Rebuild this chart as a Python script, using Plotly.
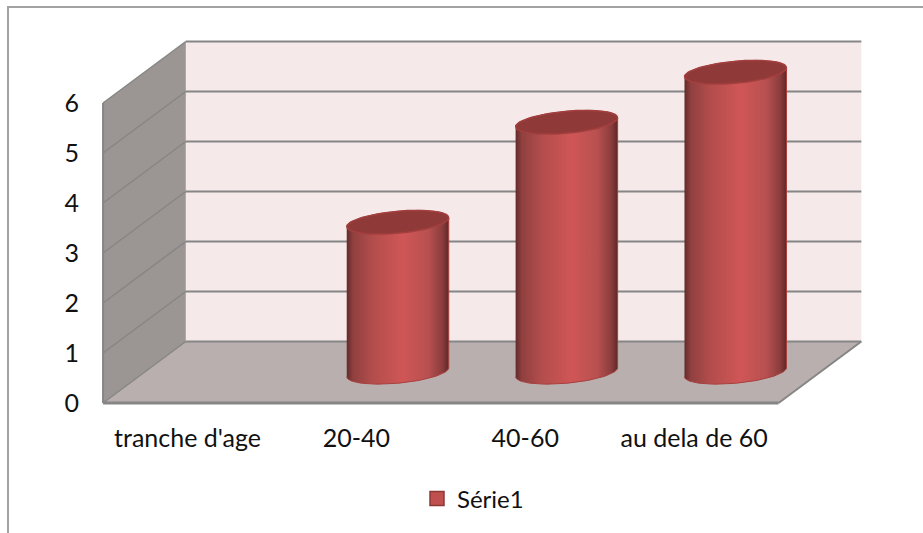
import numpy as np
import plotly.graph_objects as go

# --- data ---
categories = ["tranche d'age", "20-40", "40-60", "au dela de 60"]
values = [0, 3, 5, 6]
series_name = "Série1"
y_ticks = [0, 1, 2, 3, 4, 5, 6]

# --- 3D look geometry, in axis units ---
DX, DY = 0.49, 1.23          # depth of the box
X0, X1 = -0.5, 3.5           # front floor edge
RX = 0.302                   # cylinder half-width
RY, TILT = 0.22, 0.09        # ellipse half-height and tilt
YMAX = max(y_ticks)
FONT = "Lato"
GRID = "#868686"
W, H = 923, 533
ML, MR, MT, MB = 100, 60, 40, 127
PW, PH = W - ML - MR, H - MT - MB


def px(x):
    return (x - ML) / PW


def py(y):
    return (H - MB - y) / PH


def ring(cx, cy, a0, a1, n=60):
    t = np.radians(np.linspace(a0, a1, n))
    return cx + RX * np.cos(t), cy + RY * np.sin(t) + TILT * np.cos(t)


def poly(xs, ys, color, line=GRID, w=0):
    path = "M " + " L ".join(f"{x},{y}" for x, y in zip(xs, ys)) + " Z"
    return dict(type="path", path=path, xref="x", yref="y", fillcolor=color, layer="below",
                line=dict(color=line, width=w))


def seg(x0, y0, x1, y1, w=2, color=GRID):
    return dict(type="line", x0=x0, y0=y0, x1=x1, y1=y1, xref="x", yref="y", layer="below",
                line=dict(color=color, width=w))


shapes = [
    dict(type="rect", xref="paper", yref="paper", x0=px(8), x1=px(960), y0=py(560), y1=py(7),
         line=dict(color="#a3a3a3", width=2), fillcolor="rgba(0,0,0,0)", layer="below"),
    poly([X0 + DX, X1 + DX, X1 + DX, X0 + DX], [DY, DY, YMAX + DY, YMAX + DY], "#f5e9e9"),
    poly([X0, X0 + DX, X0 + DX, X0], [0, DY, YMAX + DY, YMAX], "#9b9594"),
    poly([X0, X1, X1 + DX, X0 + DX], [0, 0, DY, DY], "#b9afaf"),
]
for v in y_ticks:
    shapes.append(seg(X0 + DX, v + DY, X1 + DX, v + DY))
    if v:
        shapes.append(seg(X0, v, X0 + DX, v + DY, w=1.5))
shapes += [
    seg(X0, 0, X1, 0, w=3),
    seg(X0, 0, X0, YMAX, w=2),
    seg(X0, 0, X0 + DX, DY, w=1.5),
    seg(X1, 0, X1 + DX, DY, w=2),
]

fig = go.Figure()
gradient = [
    [0.0, "#632a2a"], [0.06, "#8f403f"], [0.25, "#b24d4c"], [0.55, "#d05656"],
    [0.8, "#b85050"], [0.94, "#8a3c3c"], [1.0, "#5e2826"],
]
for i, v in enumerate(values):
    if not v:
        continue
    cx, base = i + DX / 2, DY / 2
    bx, by = ring(cx, base, 180, 360)
    tx, ty = ring(cx, base + v, 0, 180)
    fig.add_trace(go.Scatter(
        x=np.r_[bx, tx], y=np.r_[by, ty], mode="lines", fill="toself",
        fillgradient=dict(type="horizontal", colorscale=gradient),
        line=dict(color="#a8403f", width=1), showlegend=False, hoverinfo="skip", cliponaxis=False))
    ex, ey = ring(cx, base + v, 0, 360)
    fig.add_trace(go.Scatter(
        x=ex, y=ey, mode="lines", fill="toself", fillcolor="#8f3a38",
        line=dict(color="#a33f3e", width=1.5), showlegend=False, hoverinfo="skip", cliponaxis=False))

fig.add_trace(go.Scatter(
    x=[None], y=[None], mode="markers", name=series_name,
    marker=dict(symbol="square", size=14, color="#c0504d", line=dict(color="#8c3836", width=1.5))))

fig.update_layout(
    width=W, height=H, margin=dict(l=ML, r=MR, t=MT, b=MB),
    paper_bgcolor="white", plot_bgcolor="rgba(0,0,0,0)",
    font=dict(family=FONT, size=25, color="#111111"),
    shapes=shapes,
    xaxis=dict(range=[-0.518, 4.0],
               tickmode="array", tickvals=list(range(len(categories))), ticktext=categories,
               showgrid=False, zeroline=False, showline=False, ticks="", ticklabelstandoff=15),
    yaxis=dict(range=[-0.06, 7.26],
               tickmode="array", tickvals=y_ticks, showgrid=False, zeroline=False,
               showline=False, ticks="", ticklabelstandoff=20),
    legend=dict(x=px(473), xanchor="center", y=py(499), yanchor="middle",
                orientation="h", bgcolor="rgba(0,0,0,0)", font=dict(size=24)),
)
fig.write_html("out.html", config=dict(displayModeBar=False),
               post_script="document.body.style.margin='0';document.body.style.overflow='hidden';")
